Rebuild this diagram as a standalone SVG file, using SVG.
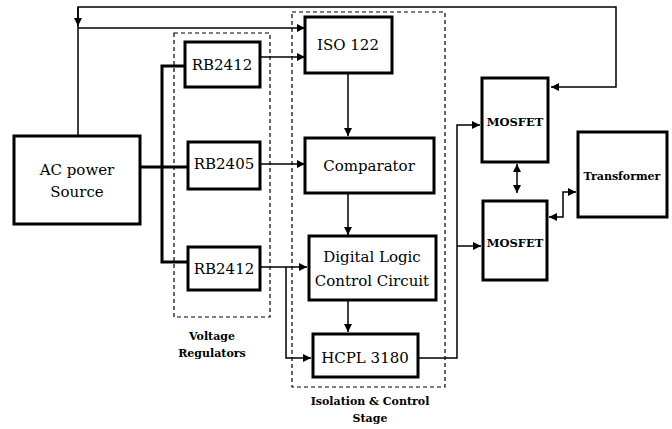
<svg xmlns="http://www.w3.org/2000/svg" width="672" height="429" viewBox="0 0 672 429">
<style>
.box{fill:#fff;stroke:#000;stroke-width:3}
.dash{fill:none;stroke:#000;stroke-width:1.2;stroke-dasharray:4,3}
.t{font-family:"DejaVu Serif","Liberation Serif",serif;font-size:15px;text-anchor:middle;fill:#000}
.b{font-family:"DejaVu Serif","Liberation Serif",serif;font-weight:bold;font-size:11px;text-anchor:middle;fill:#000}
.m{font-size:11.5px}
.w{fill:none;stroke:#000;stroke-width:1.5}
.k{fill:none;stroke:#000;stroke-width:3}
</style>
<defs>
<marker id="ah" viewBox="0 0 10 10" refX="10" refY="5" markerWidth="8" markerHeight="8" markerUnits="userSpaceOnUse" orient="auto-start-reverse">
<path d="M0,0 L10,5 L0,10 z" fill="#000"/>
</marker>
</defs>
<g id="groups">
<rect class="dash" x="174" y="33" width="96" height="284"/>
<rect class="dash" x="292" y="12" width="153" height="375"/>
</g>
<g id="connectors">
<path class="w" d="M78,136 V7 H616 V87 H551" marker-end="url(#ah)"/>
<path class="w" d="M78,7 V26" marker-end="url(#ah)"/>
<path class="w" d="M78,28 H305" marker-end="url(#ah)"/>
<path class="w" d="M260,57 H305" marker-end="url(#ah)"/>
<path class="k" d="M140,167 H188"/>
<path class="k" d="M185,66 H162 V262 H188"/>
<path class="w" d="M260,164 H305" marker-end="url(#ah)"/>
<path class="w" d="M348,73 V136" marker-end="url(#ah)"/>
<path class="w" d="M348,193 V235" marker-end="url(#ah)"/>
<path class="w" d="M260,267 H307" marker-end="url(#ah)"/>
<path class="w" d="M286,267 V358 H311" marker-end="url(#ah)"/>
<path class="w" d="M348,300 V332" marker-end="url(#ah)"/>
<path class="w" d="M418,358 H457 V125 H480" marker-end="url(#ah)"/>
<path class="w" d="M457,246 H481" marker-end="url(#ah)"/>
<path class="w" d="M517,164 V193" marker-start="url(#ah)" marker-end="url(#ah)"/>
<path class="w" d="M549,217 H563 V192 H576" marker-start="url(#ah)" marker-end="url(#ah)"/>
</g>
<g id="ac"><rect class="box" x="14" y="136" width="126" height="88"/><text class="t" x="77" y="175">AC power</text><text class="t" x="77" y="197">Source</text></g>
<g id="rb1"><rect class="box" x="185" y="42" width="75" height="45"/><text class="t" x="222" y="70">RB2412</text></g>
<g id="rb2"><rect class="box" x="188" y="142" width="72" height="47"/><text class="t" x="224" y="169">RB2405</text></g>
<g id="rb3"><rect class="box" x="188" y="247" width="72" height="43"/><text class="t" x="224" y="274">RB2412</text></g>
<g id="iso"><rect class="box" x="305" y="17" width="87" height="56"/><text class="t" x="348" y="50">ISO 122</text></g>
<g id="comp"><rect class="box" x="305" y="138" width="129" height="55"/><text class="t" x="369" y="171">Comparator</text></g>
<g id="dlc"><rect class="box" x="309" y="236" width="127" height="64"/><text class="t" x="372" y="262">Digital Logic</text><text class="t" x="372" y="286">Control Circuit</text></g>
<g id="hcpl"><rect class="box" x="313" y="334" width="105" height="43"/><text class="t" x="365" y="363">HCPL 3180</text></g>
<g id="mos1"><rect class="box" x="482" y="78" width="66" height="84"/><text class="b m" x="515" y="126">MOSFET</text></g>
<g id="mos2"><rect class="box" x="483" y="201" width="64" height="79"/><text class="b m" x="515" y="247">MOSFET</text></g>
<g id="tr"><rect class="box" x="578" y="132" width="89" height="85"/><text class="b" x="622" y="180">Transformer</text></g>
<g id="labels">
<text class="b" x="212" y="340">Voltage</text>
<text class="b" x="212" y="357">Regulators</text>
<text class="b" x="370" y="405">Isolation &amp; Control</text>
<text class="b" x="370" y="422">Stage</text>
</g>
</svg>
